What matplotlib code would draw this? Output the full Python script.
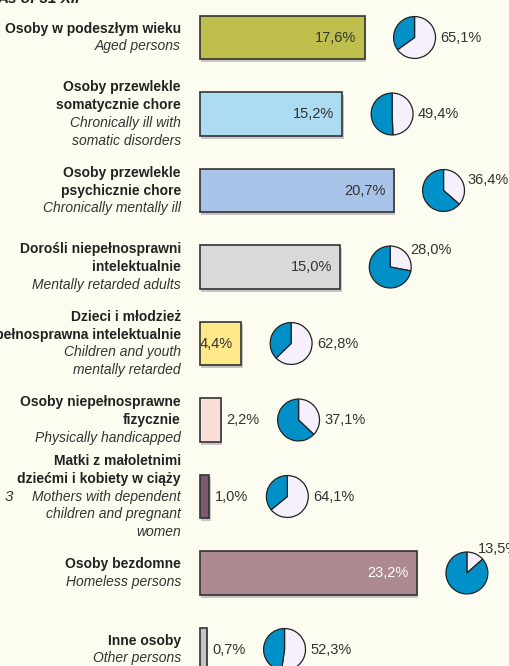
import math
import matplotlib
matplotlib.use('Agg')
import matplotlib.pyplot as plt
import matplotlib.patheffects as pe

# data
labels_pl = ['Osoby w podeszłym wieku',
             'Osoby przewlekle\nsomatycznie chore',
             'Osoby przewlekle\npsychicznie chore',
             'Dorośli niepełnosprawni\nintelektualnie',
             'Dzieci i młodzież\nniepełnosprawna intelektualnie',
             'Osoby niepełnosprawne\nfizycznie',
             'Matki z małoletnimi\ndziećmi i kobiety w ciąży',
             'Osoby bezdomne',
             'Inne osoby']
labels_en = ['Aged persons',
             'Chronically ill with\nsomatic disorders',
             'Chronically mentally ill',
             'Mentally retarded adults',
             'Children and youth\nmentally retarded',
             'Physically handicapped',
             'Mothers with dependent\nchildren and pregnant\nwomen',
             'Homeless persons',
             'Other persons']
bar_values = [17.6, 15.2, 20.7, 15.0, 4.4, 2.2, 1.0, 23.2, 0.7]
pie_values = [65.1, 49.4, 36.4, 28.0, 62.8, 37.1, 64.1, 13.5, 52.3]
bar_colors = ['#bfbf4d', '#addcf2', '#a9c2e7', '#d9d9d9', '#fde98a',
              '#f8e0d9', '#7a5a6c', '#ad8a90', '#c3c3c3']

BG = '#fdfcf0'
PIE_BLUE = '#0090c8'
PIE_LIGHT = '#f5f0fb'
FONT = ['Liberation Sans Narrow', 'Liberation Sans', 'DejaVu Sans']
plt.rcParams['font.family'] = FONT

W, H = 510, 666
fig = plt.figure(figsize=(W / 100, H / 100), dpi=100, facecolor=BG)
ax = fig.add_axes([0, 0, 1, 1])
ax.set_facecolor(BG)
ppu = 9.35  # pixels per percent
ax.set_xlim(-200 / ppu, (W - 200) / ppu)
ax.set_ylim((H - 37.5) / 76.5, -37.5 / 76.5)
ax.axis('off')

n = len(bar_values)
ypos = list(range(n))
bars = ax.barh(ypos, bar_values, height=0.575, color=bar_colors,
               edgecolor='#333333', linewidth=1.2, zorder=3)
for b in bars:
    b.set_path_effects([pe.SimplePatchShadow(offset=(1, -2), shadow_rgbFace='#b0b0b0', alpha=0.7),
                        pe.Normal()])

fig.canvas.draw()
for i, (v, pv) in enumerate(zip(bar_values, pie_values)):
    # value on bar
    inside = v > 4
    col = 'white' if i == 7 else '#333333'
    if inside:
        ax.annotate(f'{v:.1f}%'.replace('.', ','), (v, i), xytext=(-8, 0),
                    textcoords='offset pixels', ha='right', va='center',
                    fontsize=10.5, color=col, zorder=4)
    else:
        ax.annotate(f'{v:.1f}%'.replace('.', ','), (v, i), xytext=(6, 0),
                    textcoords='offset pixels', ha='left', va='center',
                    fontsize=10.5, color=col, zorder=4)

    # category labels
    lines = [(t, 'bold', 'normal') for t in labels_pl[i].split('\n')] + \
            [(t, 'normal', 'italic') for t in labels_en[i].split('\n')]
    nl = len(lines)
    for k, (t, w, s) in enumerate(lines):
        ax.annotate(t, (0, i), xytext=(-19, -(k - (nl - 1) / 2) * 17.7),
                    textcoords='offset pixels', ha='right', va='center',
                    fontsize=10, fontweight=w, style=s,
                    color='#222222' if w == 'bold' else '#333333')

    # pie next to bar
    bx, by = ax.transData.transform((v, i))
    cx = bx + (50 if inside else 78)
    r = 22
    pax = fig.add_axes([(cx - r) / W, (by - r) / H, 2 * r / W, 2 * r / H])
    pax.pie([pv, 100 - pv], colors=[PIE_LIGHT, PIE_BLUE], startangle=90,
            counterclock=False, radius=1,
            wedgeprops=dict(edgecolor='#222222', linewidth=0.9))
    pax.set_xlim(-1.05, 1.05)
    pax.set_ylim(-1.05, 1.05)
    pax.set_facecolor('none')
    txt = f'{pv:.1f}%'.replace('.', ',')
    if pv < 37:
        a = math.radians(90 - pv / 2 * 3.6)
        dx, dy = 1.2 * r * math.cos(a), 1.2 * r * math.sin(a)
        fig.text((cx + dx) / W, (by + dy) / H, txt, ha='left', va='center',
                 fontsize=10.5, color='#333333')
    else:
        fig.text((cx + r + 4) / W, by / H, txt, ha='left', va='center',
                 fontsize=10.5, color='#333333')

# text clipped at the page edges
fig.text(-0.005, 1 - 3 / H, 'As of 31 XII', ha='left', va='baseline',
         fontsize=11, fontweight='bold', style='italic', color='#222222')
fig.text(5 / W, 1 - 497 / H, '3', ha='left', va='center',
         fontsize=11, style='italic', color='#333333')

fig.savefig('out.png', dpi=100, facecolor=BG)
